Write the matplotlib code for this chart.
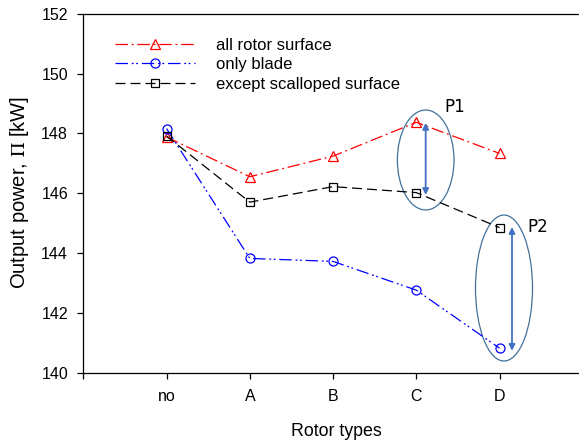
import matplotlib
matplotlib.use("Agg")
import matplotlib.pyplot as plt
from matplotlib.patches import Ellipse
import numpy as np

# data
rotor_types = ["no", "A", "B", "C", "D"]
all_rotor = [147.88, 146.55, 147.24, 148.37, 147.33]
only_blade = [148.16, 143.82, 143.72, 142.76, 140.82]
except_scalloped = [147.91, 145.70, 146.22, 146.02, 144.85]

y_ticks = [140, 142, 144, 146, 148, 150, 152]

plt.rcParams['font.family'] = ['Liberation Sans', 'DejaVu Sans']
plt.rcParams['mathtext.fontset'] = 'stix'

fig = plt.figure(figsize=(5.79, 4.41), dpi=100)
ax = fig.add_axes([83.3 / 579, (441 - 372.7) / 441, (579 - 83.3) / 579, (372.7 - 13.7) / 441])

x = np.arange(len(rotor_types))

ax.plot(x, all_rotor, color='red', lw=0.9, dashes=(10, 3, 1.5, 3),
        marker='^', ms=6.5, mfc='none', mec='red', mew=0.9,
        label='all rotor surface')
ax.plot(x, only_blade, color='blue', lw=0.9, dashes=(10, 3, 1.5, 2, 1.5, 3),
        marker='o', ms=6.5, mfc='none', mec='blue', mew=0.9,
        label='only blade')
ax.plot(x, except_scalloped, color='black', lw=0.9, dashes=(8, 4),
        marker='s', ms=6, mfc='none', mec='black', mew=0.9,
        label='except scalloped surface')

ax.set_xlim(-1, 4.955)
ax.set_ylim(140, 152)
ax.set_xticks(np.arange(-1, 5))
ax.set_xticklabels([""] + rotor_types)
ax.set_yticks(y_ticks)
ax.tick_params(axis='both', direction='out', length=4, width=0.9, labelsize=11.5)
ax.tick_params(axis='x', pad=7.5)
ax.tick_params(axis='y', pad=7)
for side in ['top', 'bottom', 'left']:
    ax.spines[side].set_linewidth(0.9)
ax.spines['right'].set_visible(False)

ax.set_xlabel('Rotor types', fontsize=12.8)
ax.set_ylabel(r'Output power, $\Pi$ [kW]', fontsize=14.5)
ax.xaxis.set_label_coords(0.51, -0.1755)
ax.xaxis.label.set_va('baseline')
ax.yaxis.set_label_coords(-0.128, 0.503)
ax.yaxis.label.set_va('center')

leg = ax.legend(loc='upper left', bbox_to_anchor=(115 / 579, 1 - 38 / 441),
                bbox_transform=fig.transFigure, frameon=False, fontsize=12,
                handlelength=4.8, handletextpad=1.25, labelspacing=0.26,
                borderpad=0, borderaxespad=0)

# highlight ellipses and arrows
ell_color = '#41719c'
arr_color = '#4472c4'
i_c, i_d = 3, 4
ax.add_patch(Ellipse((i_c + 0.113, 147.11), 0.68, 3.34, fill=False,
                     ec=ell_color, lw=0.9))
ax.add_patch(Ellipse((i_d + 0.054, 142.83), 0.685, 4.88, fill=False,
                     ec=ell_color, lw=0.9))
ax.annotate('', xy=(i_c + 0.113, except_scalloped[i_c] - 0.08),
            xytext=(i_c + 0.113, all_rotor[i_c] - 0.02),
            arrowprops=dict(arrowstyle='<|-|>', color=arr_color, lw=1.3,
                            mutation_scale=9, shrinkA=0, shrinkB=0))
ax.annotate('', xy=(i_d + 0.15, only_blade[i_d] - 0.09),
            xytext=(i_d + 0.15, except_scalloped[i_d] + 0.02),
            arrowprops=dict(arrowstyle='<|-|>', color=arr_color, lw=1.3,
                            mutation_scale=9, shrinkA=0, shrinkB=0))
ax.text(i_c + 0.465, 148.88, 'P1', fontsize=12, family='DejaVu Sans',
        ha='center', va='center')
ax.text(i_d + 0.46, 144.87, 'P2', fontsize=12, family='DejaVu Sans',
        ha='center', va='center')

fig.savefig('out.png', dpi=100)
